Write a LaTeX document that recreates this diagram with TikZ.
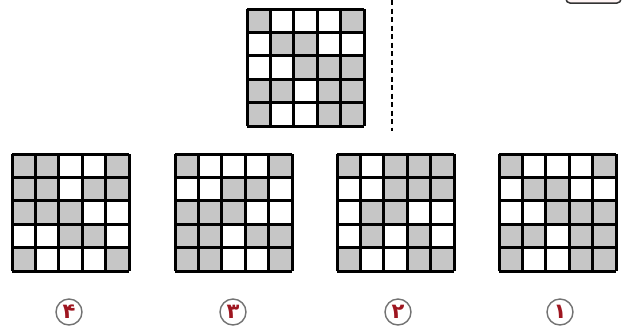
\documentclass[tikz,border=0pt]{standalone}
\usepackage{fontspec}
\usepackage{tikz}
\usetikzlibrary{positioning}
\newfontfamily\arabicfont[Script=Arabic]{DejaVu Sans}
\definecolor{CellGray}{HTML}{C6C6C6}
\definecolor{DigitRed}{HTML}{9E1620}

\tikzset{
  cell/.style={fill=CellGray},
  gridline/.style={line width=3pt, line cap=square},
  dashline/.style={line width=2.6pt, dash pattern=on 5pt off 3.5pt},
  choice/.style={circle, draw=black!55, line width=1.4pt, fill=white,
    inner sep=0pt, minimum size=26pt, text=DigitRed,
    font=\arabicfont\bfseries\fontsize{21}{21}\selectfont},
}

% 5x5 panel: x, y (top left), gray cells as col/row
\newcommand{\gridpanel}[3]{%
  \begin{scope}[shift={(#1,#2)}]
    \foreach \c/\r in {#3}
      \fill[cell] ({(\c-1)*23.4},{(\r-1)*23.4}) rectangle ++(23.4,23.4);
    \foreach \i in {0,...,5} {
      \draw[gridline] ({\i*23.4},0) -- ({\i*23.4},117);
      \draw[gridline] (0,{\i*23.4}) -- (117,{\i*23.4});
    }
  \end{scope}
}

\begin{document}
\begin{tikzpicture}[x=1pt, y=-1pt]
\clip (0,0) rectangle (623,333);
\fill[white] (0,0) rectangle (623,333);

% question
\gridpanel{247}{9}{1/1,5/1,2/2,3/2,3/3,4/3,5/3,1/4,2/4,4/4,5/4,1/5,4/5,5/5}
\draw[dashline] (392,0) -- (392,131);
\draw[line width=1.5pt, draw=black!80, fill=pink!15, rounded corners=4pt]
  (566,-12) rectangle (621,3);

% options
\gridpanel{12}{154}{1/1,2/1,5/1,1/2,2/2,4/2,5/2,1/3,2/3,3/3,3/4,4/4,1/5,5/5}
\gridpanel{175}{154}{1/1,5/1,3/2,4/2,1/3,2/3,3/3,1/4,2/4,4/4,5/4,1/5,2/5,5/5}
\gridpanel{337}{154}{1/1,3/1,4/1,5/1,3/2,4/2,5/2,2/3,3/3,2/4,4/4,1/5,4/5,5/5}
\gridpanel{499}{154}{1/1,5/1,2/2,3/2,3/3,4/3,5/3,1/4,2/4,4/4,5/4,1/5,4/5,5/5}

\node[choice] (opt4) at (69,312) {۴};
\node[choice] (opt3) at (233,312) {۳};
\node[choice] (opt2) at (398,312) {۲};
\node[choice] (opt1) at (560,312) {۱};
\end{tikzpicture}
\end{document}
